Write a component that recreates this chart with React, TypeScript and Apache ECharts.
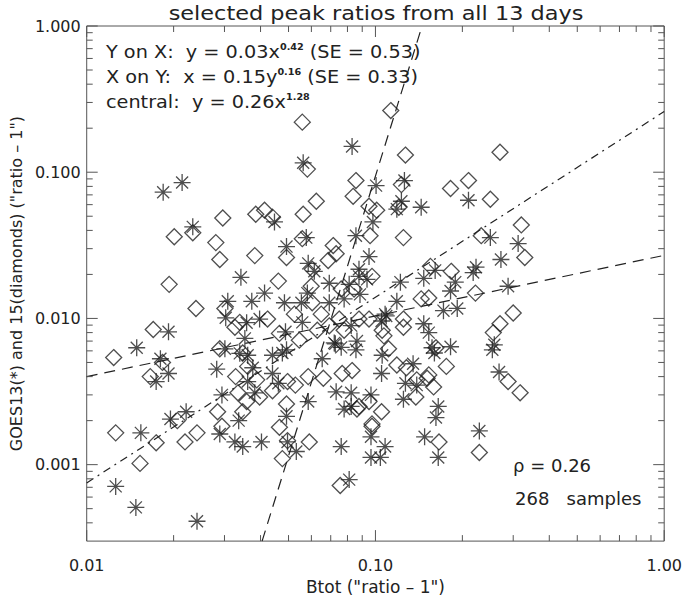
import React, { useEffect, useRef } from 'react';
import * as echarts from 'echarts';

// GOES13 peak ratios (asterisks): [Btot, GOES]
const goes13Points: [number, number][] = [
  [0.0184,0.073],[0.0214,0.085],[0.0233,0.0423],[0.0562,0.116],[0.0447,0.0457],[0.0576,0.0357],[0.0492,0.031],[0.0856,0.0368],[0.095,0.0265],[0.0342,0.0191],
  [0.0413,0.0149],[0.0373,0.0131],[0.0308,0.0131],[0.0303,0.0101],[0.0358,0.00935],[0.0397,0.0099],[0.0484,0.0128],[0.0554,0.0128],[0.0581,0.0149],[0.0614,0.021],
  [0.0692,0.0174],[0.0692,0.0128],[0.0779,0.0136],[0.0884,0.0146],[0.0192,0.0081],[0.0149,0.0063],[0.018,0.0053],[0.0488,0.0081],[0.0301,0.0062],[0.0361,0.0056],
  [0.044,0.0056],[0.0492,0.0061],[0.0654,0.0053],[0.0726,0.0067],[0.0856,0.0061],[0.1005,0.081],[0.083,0.15],[0.126,0.0877],[0.123,0.0633],[0.1186,0.0559],
  [0.144,0.0576],[0.21,0.0643],[0.098,0.0457],[0.25,0.0357],[0.312,0.0325],[0.272,0.0253],[0.223,0.0224],[0.218,0.0206],[0.161,0.0213],[0.189,0.0177],
  [0.147,0.0188],[0.122,0.0177],[0.288,0.0166],[0.182,0.0154],[0.1186,0.0131],[0.172,0.0113],[0.192,0.0117],[0.147,0.0092],[0.153,0.008],[0.109,0.0104],
  [0.105,0.0096],[0.258,0.0066],[0.254,0.0061],[0.182,0.0064],[0.157,0.0063],[0.16,0.0058],[0.1055,0.0056],[0.135,0.0049],[0.268,0.0043],[0.139,0.0035],
  [0.127,0.0036],[0.165,0.0025],[0.162,0.0021],[0.148,0.00155],[0.165,0.00112],[0.229,0.0017],[0.105,0.0042],[0.125,0.0028],[0.0965,0.003],[0.0824,0.0031],
  [0.0824,0.0025],[0.0965,0.00155],[0.108,0.00133],[0.0965,0.00112],[0.104,0.00112],[0.0811,0.00079],[0.0126,0.00071],[0.0148,0.00051],[0.0241,0.00041],[0.0174,0.0037],
  [0.0192,0.0042],[0.0195,0.00205],[0.0221,0.0023],[0.0154,0.00165],[0.0289,0.00162],[0.0294,0.003],[0.0326,0.00143],[0.0347,0.00133],[0.0336,0.002],[0.0403,0.00143],
  [0.0282,0.0045],[0.0376,0.0046],[0.0382,0.0031],[0.0361,0.0037],[0.044,0.0042],[0.0461,0.0036],[0.0492,0.00214],[0.0496,0.00143],[0.0532,0.00123],[0.0585,0.0027],
  [0.0731,0.00315],[0.0779,0.0024],[0.0761,0.00133],[0.0761,0.00634],[0.0353,0.0073],[0.0476,0.0058],[0.0558,0.0094],[0.0585,0.0238],[0.0877,0.0194],[0.0935,0.0185],
  [0.0877,0.0217],[0.0811,0.0171],[0.0824,0.00893],[0.108,0.0107],[0.0863,0.007],[0.072,0.0068],[0.0339,0.00577]
];

// GOES15 peak ratios (diamonds)
const goes15Points: [number, number][] = [
  [0.113,0.264],[0.0558,0.22],[0.127,0.131],[0.27,0.137],[0.0856,0.0877],[0.0837,0.0684],[0.0624,0.0633],[0.0562,0.0516],[0.0385,0.0516],[0.0413,0.055],
  [0.044,0.0493],[0.0296,0.0486],[0.0201,0.0362],[0.0233,0.0385],[0.028,0.033],[0.0289,0.0253],[0.0382,0.0269],[0.0492,0.0261],[0.0193,0.0171],[0.0461,0.018],
  [0.0239,0.0117],[0.017,0.0084],[0.0124,0.0054],[0.0714,0.0315],[0.0731,0.0277],[0.0686,0.0249],[0.095,0.0585],[0.0958,0.0368],[0.0599,0.0166],[0.0581,0.105],
  [0.101,0.055],[0.123,0.0823],[0.1205,0.0576],[0.125,0.0357],[0.0558,0.0351],[0.0604,0.0217],[0.0604,0.0128],[0.0973,0.0194],[0.0843,0.0159],[0.0761,0.0159],
  [0.0749,0.0099],[0.125,0.0099],[0.095,0.0099],[0.182,0.0774],[0.21,0.0877],[0.25,0.0653],[0.32,0.0436],[0.2325,0.0368],[0.329,0.0261],[0.155,0.0227],
  [0.183,0.021],[0.222,0.0149],[0.144,0.0136],[0.153,0.0138],[0.30,0.0109],[0.27,0.0092],[0.256,0.008],[0.1055,0.0083],[0.107,0.0076],[0.0877,0.0099],
  [0.111,0.0062],[0.162,0.0063],[0.176,0.0047],[0.153,0.00411],[0.159,0.0034],[0.138,0.0029],[0.139,0.0038],[0.166,0.00143],[0.229,0.00121],[0.288,0.0037],
  [0.317,0.0031],[0.1186,0.0048],[0.151,0.0039],[0.095,0.0027],[0.0877,0.0025],[0.105,0.0023],[0.0973,0.0019],[0.0755,0.00072],[0.0183,0.005],[0.0166,0.004],
  [0.0206,0.002],[0.0126,0.00165],[0.0174,0.00141],[0.0153,0.00102],[0.0219,0.00143],[0.0241,0.00165],[0.0284,0.0023],[0.0294,0.00183],[0.0328,0.004],[0.0334,0.0031],
  [0.0358,0.0027],[0.0347,0.0023],[0.0397,0.0029],[0.044,0.0032],[0.0496,0.0037],[0.0492,0.0026],[0.0465,0.0018],[0.0476,0.0011],[0.059,0.00143],[0.0528,0.0035],
  [0.0585,0.004],[0.066,0.0039],[0.0767,0.0042],[0.083,0.0044],[0.0863,0.0024],[0.0973,0.00183],[0.0289,0.0062],[0.0326,0.0087],[0.0347,0.0058],[0.0361,0.0047],
  [0.0465,0.0079],[0.0388,0.0038],[0.0496,0.00146],[0.128,0.0046],[0.125,0.0087],[0.0339,0.0094],[0.0423,0.0099],[0.0301,0.0117],[0.0629,0.0083],[0.0692,0.0089],
  [0.0545,0.0071],[0.0779,0.0083],[0.0649,0.0107],[0.0524,0.0107]
];

// Fit lines (straight in log-log), endpoints
const yOnXLine: [number, number][] = [[0.01, 0.0040], [1, 0.027]];
const xOnYLine: [number, number][] = [[0.0405, 0.0003], [0.145, 1]];
const centralLine: [number, number][] = [[0.01, 0.00075], [1, 0.26]];

const X_MIN = 0.01, X_MAX = 1;
const Y_MIN = 0.0003, Y_MAX = 1;

const xTickValues = [0.01, 0.1, 1];
const xTickLabels = ['0.01', '0.10', '1.00'];
const yTickValues = [0.001, 0.01, 0.1, 1];
const yTickLabels = ['0.001', '0.010', '0.100', '1.000'];
const xMinorTicks = [0.02, 0.03, 0.04, 0.05, 0.06, 0.07, 0.08, 0.09, 0.2, 0.3, 0.4, 0.5, 0.6, 0.7, 0.8, 0.9];
const yMinorTicks = [0.0004, 0.0005, 0.0006, 0.0007, 0.0008, 0.0009, 0.002, 0.003, 0.004, 0.005, 0.006, 0.007, 0.008, 0.009,
  0.02, 0.03, 0.04, 0.05, 0.06, 0.07, 0.08, 0.09, 0.2, 0.3, 0.4, 0.5, 0.6, 0.7, 0.8, 0.9];

const titleText = 'selected peak ratios from all 13 days';
const xAxisName = 'Btot ("ratio – 1")';
const yAxisName = 'GOES13(*) and 15(diamonds) ("ratio – 1")';
const fitTexts = [
  'Y on X:  y = 0.03x{sup|0.42} (SE = 0.53)',
  'X on Y:  x = 0.15y{sup|0.16} (SE = 0.33)',
  'central:  y = 0.26x{sup|1.28}',
];
const rhoText = 'ρ = 0.26';
const samplesText = '268   samples';

const FONT = '"DejaVu Sans", sans-serif';
const INK = '#222';
const FRAME = '#555';
const ASTERISK = 'path://M10 0L10 20M0 10L20 10M2.93 2.93L17.07 17.07M2.93 17.07L17.07 2.93';

function labelFor(values: number[], labels: string[]) {
  return (v: number) => {
    for (let i = 0; i < values.length; i++) {
      if (Math.abs(Math.log10(v) - Math.log10(values[i])) < 1e-6) return labels[i];
    }
    return '';
  };
}

export default function App() {
  const ref = useRef<HTMLDivElement>(null);
  useEffect(() => {
    if (!ref.current) return;
    const chart = echarts.init(ref.current, null, { renderer: 'svg' });
    const xTickData = [
      ...xTickValues.map((v) => [v, Y_MAX, 1]),
      ...xMinorTicks.map((v) => [v, Y_MAX, 0]),
    ];
    const yTickData = [
      ...yTickValues.map((v) => [X_MIN, v, 1]),
      ...yMinorTicks.map((v) => [X_MIN, v, 0]),
    ];
    const tickStyle = { stroke: FRAME, lineWidth: 1 };
    const lineSeries = (data: [number, number][], type: any) => ({
      type: 'line',
      data,
      symbol: 'none',
      silent: true,
      lineStyle: { color: INK, width: 1.2, type },
      z: 3,
    });
    chart.setOption({
      animation: false,
      backgroundColor: '#fff',
      textStyle: { fontFamily: FONT },
      grid: { left: 86, top: 26, right: 18, bottom: 53, show: true, borderColor: FRAME, borderWidth: 1 },
      xAxis: {
        type: 'log', logBase: 10, min: X_MIN, max: X_MAX,
        axisLine: { show: false }, axisTick: { show: false }, splitLine: { show: false },
        axisLabel: { formatter: labelFor(xTickValues, xTickLabels), margin: 16, fontSize: 16, color: INK, fontFamily: FONT },
        name: xAxisName, nameLocation: 'middle', nameGap: 35,
        nameTextStyle: { fontSize: 17, color: INK, fontFamily: FONT },
      },
      yAxis: {
        type: 'log', logBase: 10, min: Y_MIN, max: Y_MAX,
        axisLine: { show: false }, axisTick: { show: false }, splitLine: { show: false },
        axisLabel: { formatter: labelFor(yTickValues, yTickLabels), margin: 6, fontSize: 16, color: INK, fontFamily: FONT },
        name: yAxisName, nameLocation: 'middle', nameGap: 58, nameRotate: 90,
        nameTextStyle: { fontSize: 16, color: INK, fontFamily: FONT },
      },
      series: [
        {
          type: 'scatter', name: 'GOES13', data: goes13Points, symbol: ASTERISK, symbolSize: 17, symbolKeepAspect: true,
          itemStyle: { color: 'rgba(0,0,0,0)', borderColor: INK, borderWidth: 1.3 }, silent: true, z: 2,
        },
        {
          type: 'scatter', name: 'GOES15', data: goes15Points, symbol: 'diamond', symbolSize: 16,
          itemStyle: { color: 'rgba(0,0,0,0)', borderColor: INK, borderWidth: 1.3 }, silent: true, z: 2,
        },
        lineSeries(yOnXLine, [11, 7]),
        lineSeries(xOnYLine, [11, 7]),
        lineSeries(centralLine, [8, 5, 2, 5]),
        {
          type: 'custom', data: xTickData, silent: true, clip: false, z: 4,
          renderItem: (params: any, api: any) => {
            const x = api.coord([api.value(0), Y_MAX])[0];
            const cs = params.coordSys;
            const len = api.value(2) === 1 ? 11 : 6;
            return {
              type: 'group', children: [
                { type: 'line', shape: { x1: x, y1: cs.y + cs.height, x2: x, y2: cs.y + cs.height - len }, style: tickStyle },
                { type: 'line', shape: { x1: x, y1: cs.y, x2: x, y2: cs.y + len }, style: tickStyle },
              ],
            };
          },
        },
        {
          type: 'custom', data: yTickData, silent: true, clip: false, z: 4,
          renderItem: (params: any, api: any) => {
            const y = api.coord([X_MIN, api.value(1)])[1];
            const cs = params.coordSys;
            const len = api.value(2) === 1 ? 11 : 6;
            return {
              type: 'group', children: [
                { type: 'line', shape: { x1: cs.x, y1: y, x2: cs.x + len, y2: y }, style: tickStyle },
                { type: 'line', shape: { x1: cs.x + cs.width, y1: y, x2: cs.x + cs.width - len, y2: y }, style: tickStyle },
              ],
            };
          },
        },
      ],
      graphic: [
        {
          type: 'text', x: 376, y: 13, scaleX: 1.12, silent: true,
          style: { text: titleText, fontSize: 20, fontFamily: FONT, fill: INK, align: 'center', verticalAlign: 'middle' },
        },
        ...fitTexts.map((t, i) => ({
          type: 'text', x: 106, y: 52 + i * 25, scaleX: 1.07, silent: true,
          style: {
            text: t, fontSize: 18, fontFamily: FONT, fill: INK, align: 'left', verticalAlign: 'middle', lineHeight: 20,
            rich: { sup: { fontSize: 9, fontWeight: 'bold', fontFamily: FONT, fill: INK, verticalAlign: 'top', lineHeight: 10 } },
          },
        })),
        {
          type: 'text', x: 513, y: 465, silent: true,
          style: { text: rhoText, fontSize: 18, fontFamily: FONT, fill: INK, align: 'left', verticalAlign: 'middle' },
        },
        {
          type: 'text', x: 515, y: 498, silent: true,
          style: { text: samplesText, fontSize: 18, fontFamily: FONT, fill: INK, align: 'left', verticalAlign: 'middle' },
        },
      ],
    });
    return () => chart.dispose();
  }, []);
  return <div ref={ref} style={{ position: 'absolute', left: 0, top: 0, width: 685, height: 600 }} />;
}
